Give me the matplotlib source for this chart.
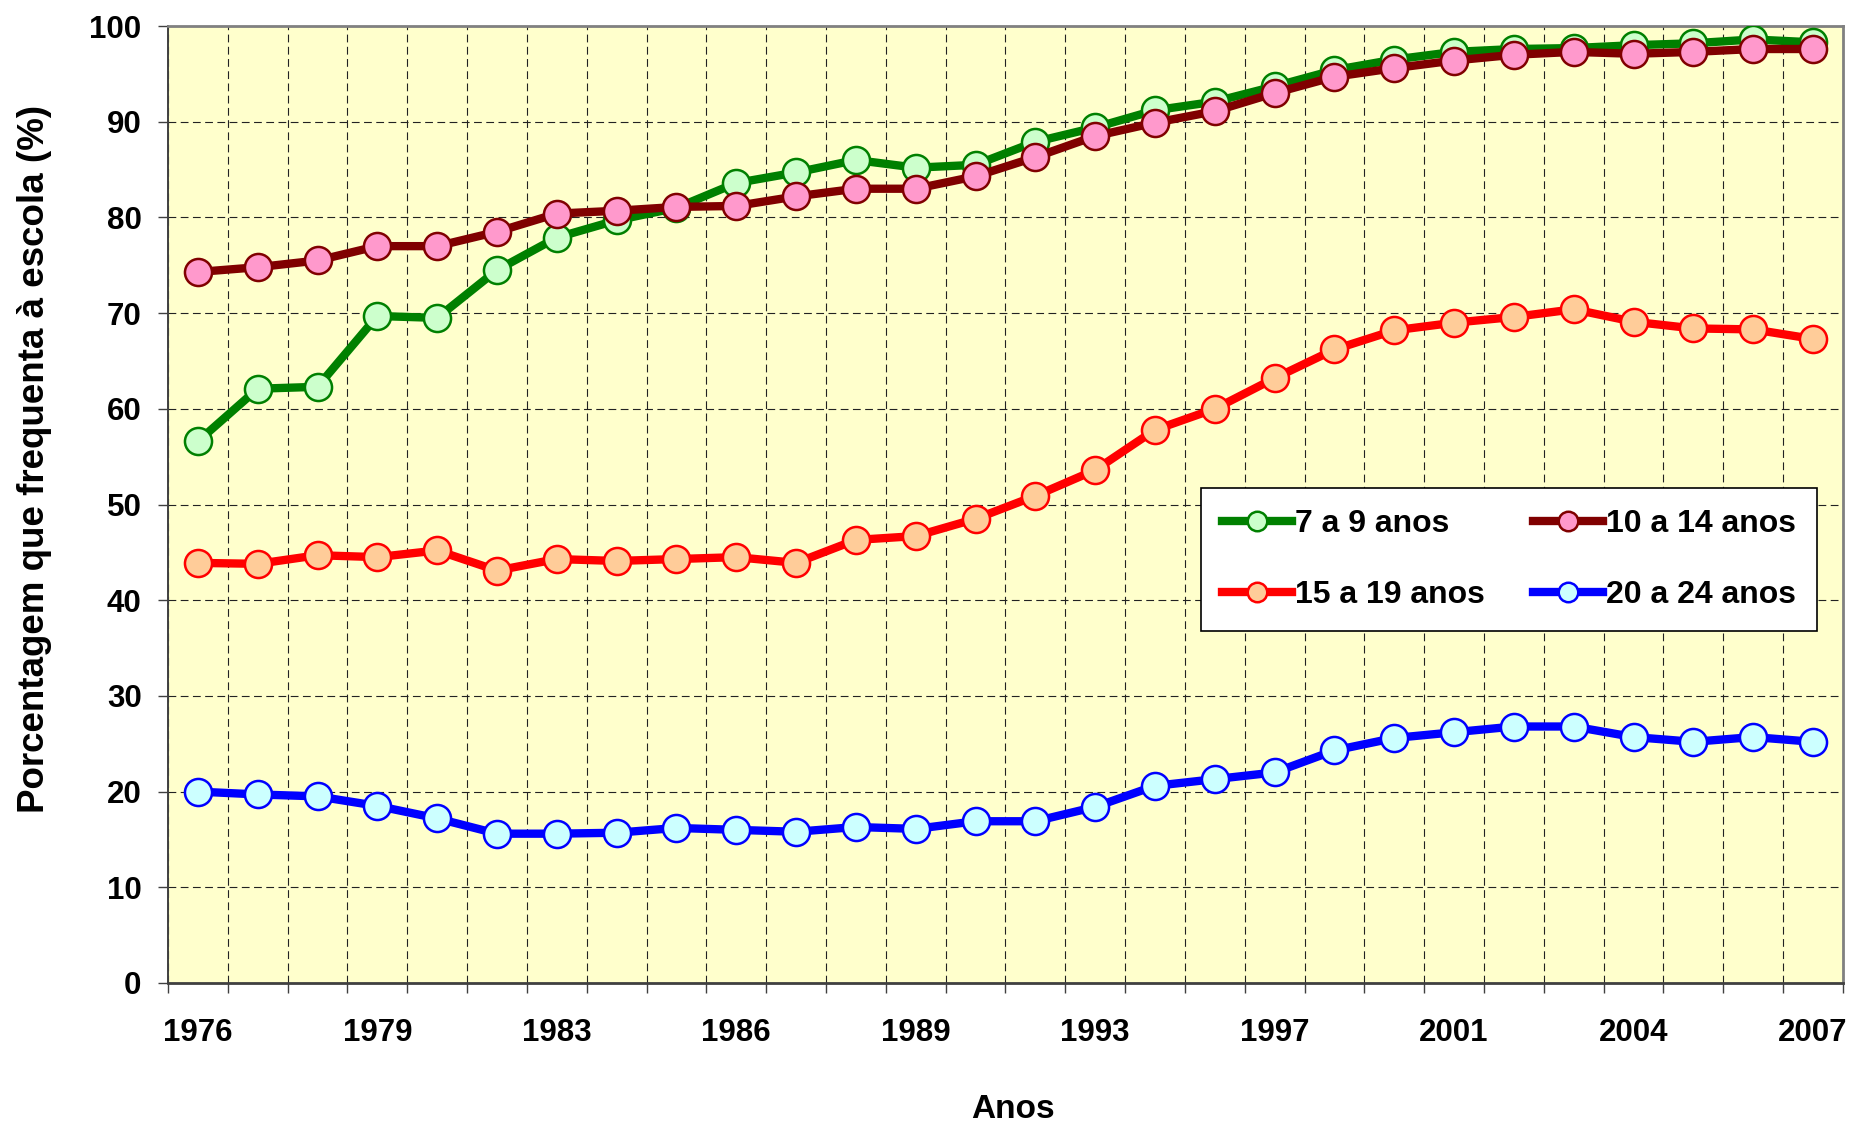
import numpy as np
import matplotlib
matplotlib.use("Agg")
import matplotlib.pyplot as plt

plt.rcParams['font.family'] = ['Liberation Sans', 'DejaVu Sans']
plt.rcParams['font.weight'] = 'bold'

# anos das PNADs (sem 1980, 1991, 1994, 2000)
anos = [1976, 1977, 1978, 1979, 1981, 1982, 1983, 1984, 1985, 1986, 1987, 1988, 1989, 1990,
        1992, 1993, 1995, 1996, 1997, 1998, 1999, 2001, 2002, 2003, 2004, 2005, 2006, 2007]

idade_7_9 = [56.6, 62.1, 62.3, 69.7, 69.5, 74.5, 77.9, 79.7, 81.0, 83.6, 84.7, 86.0, 85.2, 85.5,
             87.9, 89.4, 91.2, 92.1, 93.7, 95.4, 96.5, 97.3, 97.6, 97.7, 98.0, 98.2, 98.6, 98.3]
idade_10_14 = [74.3, 74.8, 75.5, 77.0, 77.0, 78.5, 80.4, 80.7, 81.1, 81.2, 82.2, 83.0, 83.0, 84.3,
               86.3, 88.5, 89.9, 91.1, 93.0, 94.7, 95.6, 96.4, 97.0, 97.3, 97.1, 97.3, 97.6, 97.6]
idade_15_19 = [43.9, 43.8, 44.7, 44.5, 45.2, 43.1, 44.3, 44.1, 44.3, 44.5, 43.9, 46.3, 46.7, 48.5,
               50.9, 53.6, 57.8, 60.0, 63.2, 66.2, 68.2, 69.0, 69.6, 70.4, 69.1, 68.4, 68.3, 67.3]
idade_20_24 = [20.0, 19.7, 19.5, 18.5, 17.2, 15.6, 15.6, 15.7, 16.2, 16.0, 15.8, 16.3, 16.1, 16.9,
               16.9, 18.4, 20.6, 21.3, 22.0, 24.3, 25.6, 26.2, 26.8, 26.8, 25.7, 25.2, 25.7, 25.2]

series = [
    ("7 a 9 anos", idade_7_9, "#008000", "#CCFFCC"),
    ("10 a 14 anos", idade_10_14, "#800000", "#FF99CC"),
    ("15 a 19 anos", idade_15_19, "#FF0000", "#FFCC99"),
    ("20 a 24 anos", idade_20_24, "#0000FF", "#CCFFFF"),
]

fig = plt.figure(figsize=(18.52, 11.23), dpi=100)
ax = fig.add_axes([0.0907, 0.1247, 0.9044, 0.8521])
ax.set_facecolor("#FFFFCC")

x = np.arange(len(anos))
linhas = {}
for nome, vals, cor, face in series:
    l, = ax.plot(x, vals, color=cor, lw=6, marker='o', ms=19.5, mfc=face, mec=cor,
                 mew=1.8, label=nome, zorder=3, solid_joinstyle='round')
    linhas[nome] = l

ax.set_xlim(-0.5, len(anos) - 0.5)
ax.set_ylim(0, 100)
ax.set_yticks(range(0, 101, 10))
ax.set_xticks(x[::3])
ax.set_xticklabels([str(a) for a in anos[::3]])
ax.set_xticks(np.arange(-0.5, len(anos), 1), minor=True)

ax.tick_params(axis='x', which='major', length=0, pad=25, labelsize=22.5)
ax.tick_params(axis='x', which='minor', length=7.5, width=1, color='#404040', direction='out')
ax.tick_params(axis='y', which='major', length=7.5, width=1, color='#404040', pad=11.5,
               labelsize=22.5)

ax.grid(True, which='minor', axis='x', color='#222222', lw=0.8, linestyle=(0, (7, 4)), zorder=1)
ax.grid(True, which='major', axis='y', color='#222222', lw=0.8, linestyle=(0, (7, 4)), zorder=1)
ax.set_axisbelow(True)

for s in ['top', 'right']:
    ax.spines[s].set_color('#808080')
    ax.spines[s].set_linewidth(2)
ax.spines['left'].set_color('#404040')
ax.spines['left'].set_linewidth(1.4)
ax.spines['bottom'].set_color('#404040')
ax.spines['bottom'].set_linewidth(2)

ax.set_ylabel("Porcentagem que frequenta à escola (%)", fontsize=26.5, fontweight='bold')
ax.yaxis.set_label_coords(-0.069, 0.548)
ax.set_xlabel("Anos", fontsize=24, fontweight='bold')
ax.xaxis.set_label_coords(0.5045, -0.1165)

# legenda preenchida por linha
ordem = ["7 a 9 anos", "15 a 19 anos", "10 a 14 anos", "20 a 24 anos"]
leg = ax.legend([linhas[n] for n in ordem], ordem, ncol=2, loc='center',
                bbox_to_anchor=(0.8006, 0.4425), fontsize=23, markerscale=0.72,
                handlelength=2.2, handletextpad=0.1, columnspacing=1.5,
                labelspacing=1.3, borderpad=0.65, fancybox=False, framealpha=1,
                edgecolor='black', prop={'weight': 'bold', 'size': 23})
leg.get_frame().set_linewidth(1.2)

fig.savefig("out.png", dpi=100)
